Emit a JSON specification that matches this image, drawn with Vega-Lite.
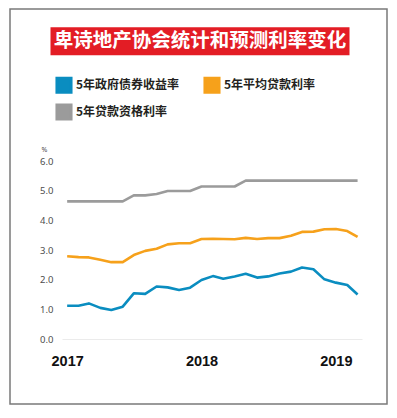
{
  "$schema": "https://vega.github.io/schema/vega-lite/v6.json",
  "background": "white",
  "autosize": {"type": "none"},
  "padding": {"left": 10, "top": 9, "right": 10, "bottom": 14},
  "width": 377,
  "height": 395,
  "config": {"font": "Noto Sans CJK SC", "view": {"stroke": "#7a7a7a", "strokeWidth": 1.5}},
  "resolve": {"scale": {"x": "independent", "y": "independent"}, "axis": {"x": "independent", "y": "independent"}},
  "layer": [
    {
      "data": {"values": [{"title": "卑诗地产协会统计和预测利率变化"}]},
      "encoding": {
        "x": {"field": "title", "type": "nominal", "scale": {"range": [40.5, 339.5], "paddingInner": 0, "paddingOuter": 0}, "axis": null},
        "y": {"field": "title", "type": "nominal", "scale": {"range": [18.3, 46.3], "paddingInner": 0, "paddingOuter": 0}, "axis": null}
      },
      "layer": [
        {"mark": {"type": "rect", "color": "#e31d25"}},
        {
          "mark": {"type": "text", "font": "Noto Sans CJK SC", "fontWeight": "bold", "fontSize": 19.5, "color": "white", "align": "center", "baseline": "middle"},
          "encoding": {"text": {"field": "title", "type": "nominal"}}
        }
      ]
    },
    {
      "data": {"values": [
        {"date": "2017-01-01T00:00:00", "5年政府债券收益率": 1.12, "5年平均贷款利率": 2.79, "5年贷款资格利率": 4.64},
        {"date": "2017-02-01T00:00:00", "5年政府债券收益率": 1.12, "5年平均贷款利率": 2.76, "5年贷款资格利率": 4.64},
        {"date": "2017-03-01T00:00:00", "5年政府债券收益率": 1.20, "5年平均贷款利率": 2.75, "5年贷款资格利率": 4.64},
        {"date": "2017-04-01T00:00:00", "5年政府债券收益率": 1.05, "5年平均贷款利率": 2.67, "5年贷款资格利率": 4.64},
        {"date": "2017-05-01T00:00:00", "5年政府债券收益率": 0.98, "5年平均贷款利率": 2.59, "5年贷款资格利率": 4.64},
        {"date": "2017-06-01T00:00:00", "5年政府债券收益率": 1.09, "5年平均贷款利率": 2.59, "5年贷款资格利率": 4.64},
        {"date": "2017-07-01T00:00:00", "5年政府债券收益率": 1.54, "5年平均贷款利率": 2.83, "5年贷款资格利率": 4.84},
        {"date": "2017-08-01T00:00:00", "5年政府债券收益率": 1.52, "5年平均贷款利率": 2.97, "5年贷款资格利率": 4.84},
        {"date": "2017-09-01T00:00:00", "5年政府债券收益率": 1.77, "5年平均贷款利率": 3.04, "5年贷款资格利率": 4.89},
        {"date": "2017-10-01T00:00:00", "5年政府债券收益率": 1.74, "5年平均贷款利率": 3.19, "5年贷款资格利率": 4.99},
        {"date": "2017-11-01T00:00:00", "5年政府债券收益率": 1.65, "5年平均贷款利率": 3.23, "5年贷款资格利率": 4.99},
        {"date": "2017-12-01T00:00:00", "5年政府债券收益率": 1.73, "5年平均贷款利率": 3.23, "5年贷款资格利率": 4.99},
        {"date": "2018-01-01T00:00:00", "5年政府债券收益率": 1.99, "5年平均贷款利率": 3.37, "5年贷款资格利率": 5.14},
        {"date": "2018-02-01T00:00:00", "5年政府债券收益率": 2.12, "5年平均贷款利率": 3.38, "5年贷款资格利率": 5.14},
        {"date": "2018-03-01T00:00:00", "5年政府债券收益率": 2.03, "5年平均贷款利率": 3.37, "5年贷款资格利率": 5.14},
        {"date": "2018-04-01T00:00:00", "5年政府债券收益率": 2.11, "5年平均贷款利率": 3.36, "5年贷款资格利率": 5.14},
        {"date": "2018-05-01T00:00:00", "5年政府债券收益率": 2.20, "5年平均贷款利率": 3.41, "5年贷款资格利率": 5.34},
        {"date": "2018-06-01T00:00:00", "5年政府债券收益率": 2.07, "5年平均贷款利率": 3.37, "5年贷款资格利率": 5.34},
        {"date": "2018-07-01T00:00:00", "5年政府债券收益率": 2.11, "5年平均贷款利率": 3.40, "5年贷款资格利率": 5.34},
        {"date": "2018-08-01T00:00:00", "5年政府债券收益率": 2.21, "5年平均贷款利率": 3.40, "5年贷款资格利率": 5.34},
        {"date": "2018-09-01T00:00:00", "5年政府债券收益率": 2.27, "5年平均贷款利率": 3.48, "5年贷款资格利率": 5.34},
        {"date": "2018-10-01T00:00:00", "5年政府债券收益率": 2.41, "5年平均贷款利率": 3.61, "5年贷款资格利率": 5.34},
        {"date": "2018-11-01T00:00:00", "5年政府债券收益率": 2.35, "5年平均贷款利率": 3.62, "5年贷款资格利率": 5.34},
        {"date": "2018-12-01T00:00:00", "5年政府债券收益率": 2.01, "5年平均贷款利率": 3.70, "5年贷款资格利率": 5.34},
        {"date": "2019-01-01T00:00:00", "5年政府债券收益率": 1.90, "5年平均贷款利率": 3.71, "5年贷款资格利率": 5.34},
        {"date": "2019-02-01T00:00:00", "5年政府债券收益率": 1.82, "5年平均贷款利率": 3.64, "5年贷款资格利率": 5.34},
        {"date": "2019-03-01T00:00:00", "5年政府债券收益率": 1.50, "5年平均贷款利率": 3.44, "5年贷款资格利率": 5.34}
      ]},
      "transform": [{"fold": ["5年贷款资格利率", "5年平均贷款利率", "5年政府债券收益率"], "as": ["series", "value"]}],
      "mark": {"type": "line", "strokeJoin": "round", "strokeCap": "butt"},
      "encoding": {
        "x": {
          "field": "date", "type": "temporal",
          "scale": {"domain": [{"year": 2016, "month": 12, "date": 18}, {"year": 2019, "month": 3, "date": 13}], "range": [52, 352]},
          "axis": {
            "values": [{"year": 2017, "month": 1, "date": 1}, {"year": 2018, "month": 1, "date": 1}, {"year": 2019, "month": 1, "date": 1}],
            "format": "%Y", "offset": -65, "domainColor": "#ebebeb", "domainWidth": 1.2,
            "ticks": false, "grid": false, "labelPadding": 15, "labelFont": "Liberation Sans",
            "labelFontWeight": "bold", "labelFontSize": 14.5, "labelColor": "#111111", "title": null, "labelFlush": false
          }
        },
        "y": {
          "field": "value", "type": "quantitative",
          "scale": {"domain": [0, 6], "range": [330, 152], "nice": false, "zero": false},
          "axis": {
            "values": [0, 1, 2, 3, 4, 5, 6], "format": ".1f", "grid": false, "domain": false, "ticks": false,
            "offset": -52, "labelPadding": 9, "labelFont": "Noto Sans", "labelFontSize": 9.5, "labelColor": "#4d4d4d",
            "title": "%", "titleAngle": 0, "titleX": -18, "titleY": 140, "titleFont": "Noto Sans", "titleFontSize": 7,
            "titleFontWeight": "normal", "titleColor": "#4d4d4d", "titleAlign": "center", "titleBaseline": "middle"
          }
        },
        "color": {
          "field": "series", "type": "nominal",
          "scale": {"domain": ["5年政府债券收益率", "5年平均贷款利率", "5年贷款资格利率"], "range": ["#0a8dc0", "#f6a11b", "#9b9b9b"]},
          "legend": {
            "orient": "none", "legendX": 45, "legendY": 67, "columns": 2, "direction": "horizontal", "title": null,
            "symbolType": "square", "symbolSize": 210, "symbolOpacity": 1,
            "labelFont": "Noto Sans CJK SC", "labelFontWeight": "bold", "labelFontSize": 12, "labelColor": "#231f20",
            "labelOffset": 3, "columnPadding": 19, "rowPadding": 1, "labelLimit": 300,
            "encode": {"symbols": {"update": {"fill": {"scale": "color", "field": "value"}, "stroke": {"value": "transparent"}, "strokeWidth": {"value": 0}}}}
          }
        },
        "strokeWidth": {
          "field": "series", "type": "nominal",
          "scale": {"domain": ["5年政府债券收益率", "5年平均贷款利率", "5年贷款资格利率"], "range": [2.6, 2.6, 1.5]},
          "legend": null
        }
      }
    }
  ]
}
